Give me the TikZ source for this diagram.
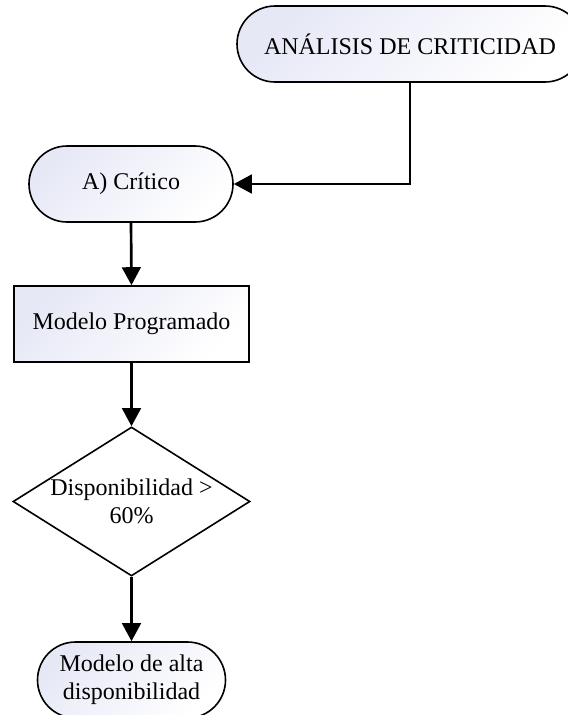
\documentclass[tikz,border=0pt]{standalone}
\usepackage{fontspec}
\setmainfont{Liberation Serif}
\usetikzlibrary{shapes.geometric,arrows.meta}
\definecolor{lav}{RGB}{230,232,246}
\tikzset{
  base/.style={draw=black,line width=1.2pt,font=\fontsize{18}{21}\selectfont,
    align=center,inner sep=2pt},
  fillgrad/.style={top color=lav,bottom color=white,shading angle=45},
  terminal/.style={base,fillgrad,rectangle,rounded corners=28.5pt,
    minimum height=57pt},
  process/.style={base,fillgrad,rectangle,minimum height=57pt},
  decision/.style={base,fill=white,diamond,minimum width=177.75pt,
    minimum height=111.75pt,inner sep=0pt},
  plain/.style={font=\fontsize{18}{21}\selectfont,align=center,inner sep=0pt},
  flow/.style={line width=2pt,-{Triangle[length=13.5pt,width=14pt]}}
}
\begin{document}
\begin{tikzpicture}[x=0.75pt,y=-0.75pt]
  \useasboundingbox (0,0) rectangle (568,715);
  \clip (0,0) rectangle (568,715);
  % flowchart nodes
  \node[terminal,minimum width=259.5pt] (analisis) at (410,44) {ANÁLISIS DE CRITICIDAD};
  \node[terminal,minimum width=153pt] (critico) at (131,184) {A) Crítico};
  \node[process,minimum width=176.25pt] (programado) at (131.5,324) {Modelo Programado};
  \node[decision] (disp) at (131.5,501.5) {};
  \node[plain] (disptext) at (disp.center) {Disponibilidad >\\60\%};
  \node[terminal,minimum width=141pt] (alta) at (131.5,680) {Modelo de alta\\disponibilidad};
  % connectors
  \draw[flow] (analisis.south) |- (critico.east);
  \draw[flow] (critico.south) -- (programado.north);
  \draw[flow] (programado.south) -- (disp.north);
  \draw[flow] (disp.south) -- (alta.north);
\end{tikzpicture}
\end{document}
